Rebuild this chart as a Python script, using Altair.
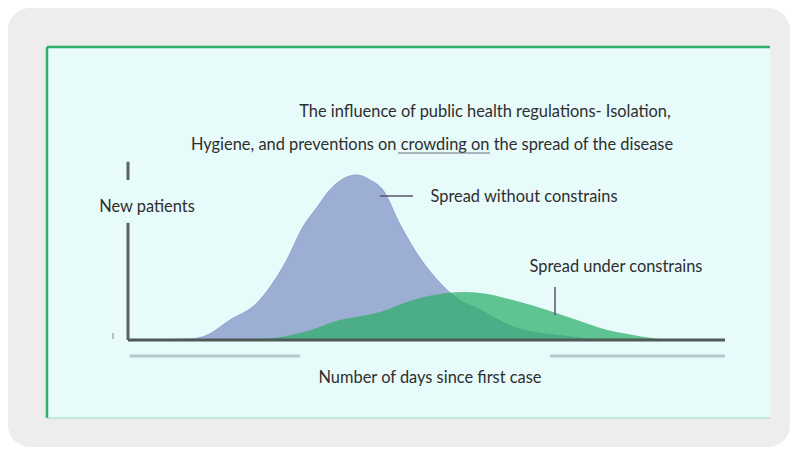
import altair as alt
import pandas as pd

# ---- data ----
blue_days = [0.0, 10.4, 12.9, 17.1, 21.6, 23.8, 26.6, 29.3, 31.7, 33.8, 36.7, 38.4, 40.5, 42.7, 45.6, 48.9, 52.3, 54.8, 59.0, 64.5, 72.9, 79.1]
blue_vals = [0.0, 0.6, 2.4, 12.1, 22.4, 32.1, 48.5, 68.5, 80.6, 90.9, 98.8, 100.0, 97.0, 90.9, 69.7, 49.7, 34.5, 26.1, 18.2, 7.9, 2.4, 0.0]

green_days = [0.0, 12.1, 24.3, 28.8, 35.5, 42.2, 47.7, 53.4, 56.4, 59.0, 64.5, 70.2, 75.7, 79.1, 84.6, 89.1, 92.5]
green_vals = [0.0, 0.0, 1.2, 4.2, 12.1, 17.0, 24.2, 28.5, 29.1, 28.5, 24.2, 18.2, 11.5, 7.3, 3.0, 0.6, 0.0]

# axis segments (days / value units)
axis_h = {"x": [0], "x2": [100], "y": [0], "y2": [0]}
axis_v = {"x": [0, 0], "x2": [0, 0], "y": [0, 97], "y2": [71, 108]}
under_lines = {"x": [0.3, 70.7], "x2": [28.8, 100], "y": [-9.7, -9.7], "y2": [-9.7, -9.7]}

title_1 = "The influence of public health regulations- Isolation,"
title_2 = "Hygiene, and preventions on crowding  on the spread of the disease"
label_blue = "Spread without constrains"
label_green = "Spread under constrains"
y_label = "New patients"
x_label = "Number of days since first case"

FONT = "Lato"
TXT = "#2e2e2e"
FS = 16.4

xscale = alt.Scale(domain=[0, 100], range=[120, 717], nice=False, zero=False)
yscale = alt.Scale(domain=[0, 100], range=[332, 167], nice=False, zero=False)

one = pd.DataFrame({"a": [0]})

panel = alt.Chart(one).mark_rect(color="#e7fbfa").encode(
    x=alt.value(39), x2=alt.value(762), y=alt.value(39), y2=alt.value(410))
border_top = alt.Chart(one).mark_rule(color="#2eb06a", strokeWidth=2.5).encode(
    x=alt.value(39), x2=alt.value(762), y=alt.value(39))
border_left = alt.Chart(one).mark_rule(color="#2eb06a", strokeWidth=2.5).encode(
    x=alt.value(39), y=alt.value(39), y2=alt.value(410))
border_bottom = alt.Chart(one).mark_rule(color="#9fdcbc", strokeWidth=1).encode(
    x=alt.value(39), x2=alt.value(762), y=alt.value(410))

blue_df = pd.DataFrame({"d": blue_days, "v": blue_vals})
green_df = pd.DataFrame({"d": green_days, "v": green_vals})

blue = alt.Chart(blue_df).mark_area(color="#9daed4", interpolate="monotone",
                                    stroke="#90a2ca", strokeWidth=1).encode(
    x=alt.X("d:Q", scale=xscale, axis=None),
    y=alt.Y("v:Q", scale=yscale, axis=None))
green = alt.Chart(green_df).mark_area(color="#2daf69", opacity=0.72, interpolate="monotone").encode(
    x=alt.X("d:Q", scale=xscale, axis=None),
    y=alt.Y("v:Q", scale=yscale, axis=None))


def seg(d, color, width):
    return alt.Chart(pd.DataFrame(d)).mark_rule(color=color, strokeWidth=width).encode(
        x=alt.X("x:Q", scale=xscale, axis=None), x2="x2:Q",
        y=alt.Y("y:Q", scale=yscale, axis=None), y2="y2:Q")


ax_h = seg(axis_h, "#4f5a58", 3)
ax_v = seg(axis_v, "#5c6262", 3)
ul = seg(under_lines, "#b5c8cc", 3)


def txt(s, x, y, size=FS):
    return alt.Chart(one).mark_text(text=s, font=FONT, fontSize=size, color=TXT,
                                    align="center", baseline="middle").encode(
        x=alt.value(x), y=alt.value(y))


def rule(x, x2, y, y2, color="#555", w=1.5):
    return alt.Chart(one).mark_rule(color=color, strokeWidth=w).encode(
        x=alt.value(x), x2=alt.value(x2), y=alt.value(y), y2=alt.value(y2))


texts = [
    txt(title_1, 477, 104),
    txt(title_2, 424, 137),
    rule(390, 482, 145, 145, "#6a7080", 1.2),
    txt(label_blue, 516, 189),
    rule(372, 405, 188, 188, "#556", 1.5),
    txt(label_green, 608, 259),
    rule(547, 547, 279, 307, "#556", 1.5),
    txt(y_label, 139, 199),
    txt(x_label, 422, 370),
    rule(105, 105, 325, 331, "#aab", 1.5),
]

chart = alt.layer(panel, border_top, border_left, border_bottom, blue, green, ul, ax_h, ax_v, *texts).properties(
    width=782, height=439,
    autosize=alt.AutoSizeParams(type="none"),
    padding=0,
    background="#ffffff",
).configure_view(fill="#ededed", stroke=None, cornerRadius=22)

chart.save("out.html", embed_options={"renderer": "svg", "actions": False})
